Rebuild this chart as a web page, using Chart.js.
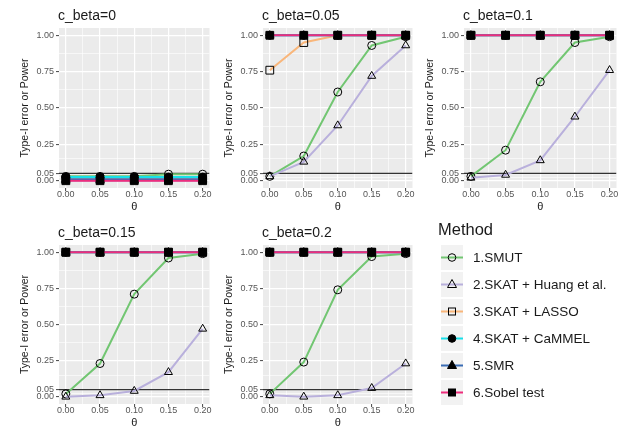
<!DOCTYPE html>
<html>
<head>
<meta charset="utf-8">
<script src="https://cdn.jsdelivr.net/npm/chart.js@4/dist/chart.umd.min.js"></script>
<style>
  body { margin: 0; background: #fff; width: 628px; height: 433px; overflow: hidden; position: relative;
         font-family: "Liberation Sans", Arial, sans-serif; }
  .panel { position: absolute; }
  .ltitle { position: absolute; left: 438px; top: 220px; font-size: 16.5px; color: #1a1a1a; }
  .lrow { position: absolute; left: 441px; height: 25px; display: flex; align-items: center; }
  .lrow svg { display: block; }
  .lrow span { margin-left: 10px; font-size: 13.5px; color: #1a1a1a; white-space: nowrap; }
</style>
</head>
<body>
<script>
// categories
const methods = ["1.SMUT", "2.SKAT + Huang et al.", "3.SKAT + LASSO", "4.SKAT + CaMMEL", "5.SMR", "6.Sobel test"];
const cBetas = ["0", "0.05", "0.1", "0.15", "0.2"];
const thetas = [0, 0.05, 0.10, 0.15, 0.20];

// tick labels
const xTicks = [0, 0.05, 0.10, 0.15, 0.20];
const xMinor = [0.025, 0.075, 0.125, 0.175];
const yTicks = [0, 0.05, 0.25, 0.50, 0.75, 1.00];
const yMinor = [0.025, 0.15, 0.375, 0.625, 0.875];
const alphaLevel = 0.05;

// values, one row per c_beta panel
const smut   = [[0.03, 0.03, 0.03, 0.045, 0.045], [0.03, 0.17, 0.61, 0.93, 0.99], [0.03, 0.21, 0.68, 0.95, 0.99],
                [0.02, 0.23, 0.71, 0.96, 0.99], [0.02, 0.24, 0.74, 0.97, 0.99]];
const huang  = [[0, 0, 0, 0, 0], [0.03, 0.13, 0.38, 0.72, 0.93], [0.02, 0.04, 0.14, 0.44, 0.76],
                [0, 0.01, 0.04, 0.17, 0.47], [0.01, 0, 0.01, 0.06, 0.23]];
const lasso  = [[0.01, 0.01, 0.01, 0.01, 0.01], [0.76, 0.95, 1, 1, 1], [1, 1, 1, 1, 1], [1, 1, 1, 1, 1], [1, 1, 1, 1, 1]];
const cammel = [[0.025, 0.025, 0.025, 0.025, 0.025], [1, 1, 1, 1, 1], [1, 1, 1, 1, 1], [1, 1, 1, 1, 1], [1, 1, 1, 1, 1]];
const smr    = [[0.01, 0.01, 0.01, 0.01, 0.01], [1, 1, 1, 1, 1], [1, 1, 1, 1, 1], [1, 1, 1, 1, 1], [1, 1, 1, 1, 1]];
const sobel  = [[0, 0, 0, 0, 0], [1, 1, 1, 1, 1], [1, 1, 1, 1, 1], [1, 1, 1, 1, 1], [1, 1, 1, 1, 1]];
const series = [smut, huang, lasso, cammel, smr, sobel];

// styling
const lineColors = ["#72c672", "#b9b0dc", "#f9b67a", "#17e0ea", "#3a6cb4", "#ee2d7c"];
const shapes = ["circle", "triangle", "rect", "circle", "triangle", "rect"];
const filled = [false, false, false, true, true, true];
const radii = [4, 4.6, 5.5, 4, 4.6, 5.5];

// where each facet sits on the page
const panelBoxes = [
  { left: 0, top: 0, w: 216, h: 215 },
  { left: 204, top: 0, w: 215, h: 215 },
  { left: 405, top: 0, w: 218, h: 215 },
  { left: 0, top: 217, w: 216, h: 214 },
  { left: 204, top: 217, w: 215, h: 214 },
];

const panelBg = {
  id: "panelBg",
  beforeDraw(chart) {
    const a = chart.chartArea, ctx = chart.ctx;
    ctx.save();
    ctx.fillStyle = "#ebebeb";
    ctx.fillRect(a.left, a.top, a.right - a.left, a.bottom - a.top);
    ctx.restore();
  },
};

const stripTitle = {
  id: "stripTitle",
  afterDraw(chart, args, opts) {
    const ctx = chart.ctx;
    ctx.save();
    ctx.font = '14px "Liberation Sans", Arial, sans-serif';
    ctx.fillStyle = "#1a1a1a";
    ctx.textBaseline = "alphabetic";
    ctx.fillText(opts.text, chart.chartArea.left - 1, chart.chartArea.top - 8);
    ctx.restore();
  },
};

const tickFont = { family: '"Liberation Sans", Arial, sans-serif', size: 9 };

function gridOpts() {
  return {
    color: "#ffffff",
    lineWidth: (c) => (c.tick && c.tick.minor ? 0.6 : 1.2),
    tickLength: 3,
    tickColor: (c) => (c.tick && c.tick.minor ? "rgba(0,0,0,0)" : "#444"),
    tickWidth: 1,
  };
}

function makePanel(i) {
  const box = panelBoxes[i];
  const div = document.createElement("div");
  div.className = "panel";
  div.style.left = box.left + "px";
  div.style.top = box.top + "px";
  const canvas = document.createElement("canvas");
  canvas.width = box.w;
  canvas.height = box.h;
  div.appendChild(canvas);
  document.body.appendChild(div);

  const datasets = series.map((s, m) => ({
    label: methods[m],
    data: thetas.map((t, k) => ({ x: t, y: s[i][k] })),
    borderColor: lineColors[m],
    borderWidth: 2,
    pointStyle: shapes[m],
    pointRadius: radii[m],
    pointBorderColor: "#000",
    pointBackgroundColor: filled[m] ? "#000" : "rgba(0,0,0,0)",
    pointBorderWidth: 1,
    tension: 0,
    order: 6 - m,
  }));
  datasets.push({
    label: "alpha",
    data: [{ x: -0.01, y: alphaLevel }, { x: 0.21, y: alphaLevel }],
    borderColor: "#333",
    borderWidth: 1.2,
    pointRadius: 0,
    order: 10,
  });

  new Chart(canvas, {
    type: "line",
    data: { datasets },
    options: {
      responsive: false,
      animation: false,
      layout: { padding: { left: 0, right: 2, top: 28, bottom: 0 } },
      plugins: { legend: { display: false }, tooltip: { enabled: false }, stripTitle: { text: "c_beta=" + cBetas[i] } },
      scales: {
        x: {
          type: "linear", min: -0.01, max: 0.21,
          afterBuildTicks: (s) => {
            s.ticks = xTicks.map((v) => ({ value: v })).concat(xMinor.map((v) => ({ value: v, minor: true })));
          },
          afterFit: (s) => { s.height = 27; },
          ticks: {
            autoSkip: false, maxRotation: 0, padding: -2, color: "#555", font: tickFont,
            callback: (v, idx, ticks) => (ticks[idx].minor ? "" : v.toFixed(2)),
          },
          grid: gridOpts(),
          border: { display: false },
          title: { display: true, text: "θ", color: "#1a1a1a", font: { size: 11 }, padding: { top: 0, bottom: 1 } },
        },
        y: {
          type: "linear", min: -0.05, max: 1.05,
          afterBuildTicks: (s) => {
            s.ticks = yTicks.map((v) => ({ value: v })).concat(yMinor.map((v) => ({ value: v, minor: true })));
          },
          afterFit: (s) => { s.width = 59; },
          ticks: {
            autoSkip: false, padding: 2, color: "#555", font: tickFont,
            callback: (v, idx, ticks) => (ticks[idx].minor ? "" : v.toFixed(2)),
          },
          grid: gridOpts(),
          border: { display: false },
          title: { display: true, text: "Type-I error or Power", color: "#1a1a1a", font: { size: 10.5 }, padding: { top: 19, bottom: 0 } },
        },
      },
    },
    plugins: [panelBg, stripTitle],
  });
}

cBetas.forEach((c, i) => makePanel(i));

// legend, drawn like ggplot keys
function keySvg(m) {
  const c = 12.5;
  let mark = "";
  const fill = filled[m] ? "#000" : "none";
  if (shapes[m] === "circle") mark = `<circle cx="11" cy="${c}" r="3.8" fill="${fill}" stroke="#000" stroke-width="1"/>`;
  if (shapes[m] === "triangle") mark = `<polygon points="11,${c - 5} 6.5,${c + 3} 15.5,${c + 3}" fill="${fill}" stroke="#000" stroke-width="1"/>`;
  if (shapes[m] === "rect") mark = `<rect x="7.5" y="${c - 3.5}" width="7" height="7" fill="${fill}" stroke="#000" stroke-width="1"/>`;
  return `<svg width="22" height="25"><rect width="22" height="25" fill="#f2f2f2"/>` +
    `<line x1="0" y1="${c}" x2="22" y2="${c}" stroke="${lineColors[m]}" stroke-width="2"/>${mark}</svg>`;
}

const lt = document.createElement("div");
lt.className = "ltitle";
lt.textContent = "Method";
document.body.appendChild(lt);
methods.forEach((name, m) => {
  const row = document.createElement("div");
  row.className = "lrow";
  row.style.top = 245 + m * 27 + "px";
  row.innerHTML = keySvg(m) + "<span></span>";
  row.querySelector("span").textContent = name;
  document.body.appendChild(row);
});
</script>
</body>
</html>
